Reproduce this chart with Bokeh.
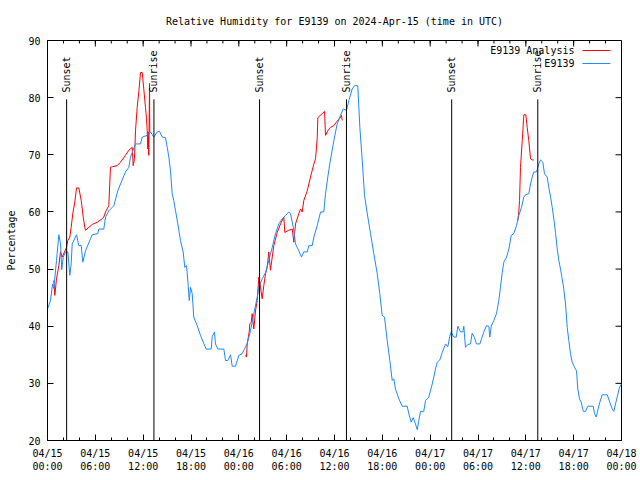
import math
from bokeh.plotting import figure
from bokeh.models import Range1d, FixedTicker, LinearAxis
from bokeh.core.properties import value
from bokeh.embed import file_html
from bokeh.resources import INLINE

# ---------------- data (hours after 2024-04-15 00:00 UTC) ----------------
x_tick_hours = [0, 6, 12, 18, 24, 30, 36, 42, 48, 54, 60, 66, 72]
x_tick_labels = ["04/15\n00:00", "04/15\n06:00", "04/15\n12:00", "04/15\n18:00",
                 "04/16\n00:00", "04/16\n06:00", "04/16\n12:00", "04/16\n18:00",
                 "04/17\n00:00", "04/17\n06:00", "04/17\n12:00", "04/17\n18:00",
                 "04/18\n00:00"]
x_minor_hours = [0, 2, 4, 6, 8, 10, 12, 14, 16, 18, 20, 22, 24, 26, 28, 30, 32, 34, 36,
                 38, 40, 42, 44, 46, 48, 50, 52, 54, 56, 58, 60, 62, 64, 66, 68, 70, 72]
y_ticks = [20, 30, 40, 50, 60, 70, 80, 90]

sun_hours = [2.4, 13.35, 26.6, 37.5, 50.7, 61.5]
sun_labels = ["Sunset", "Sunrise", "Sunset", "Sunrise", "Sunset", "Sunrise"]

NaN = float("nan")
analysis_hours = [
    0.79, 0.92, 1.13, 1.42, 1.63, 1.84, 2.13, 2.38, 2.55, 2.80,
    2.97, 3.17, 3.39, 3.64, 3.93, 4.23, 4.48, 4.68, 4.77, 5.18,
    5.61, 6.23, 6.86, 7.06, 7.28, 7.69, 7.90, 8.12, 8.74, 9.16,
    9.78, 10.20, 10.63, 10.75, 10.91, 11.04, 11.25, 11.45, 11.67, 11.88,
    12.08, 12.29, 12.42, 12.51, 12.58, 12.63, 12.71, 12.80, 12.83, NaN,
    24.84, 24.96, 25.05, 25.30, 25.38, 25.55, 25.68, 25.88, 26.09, 26.31,
    26.51, 26.72, 26.93, 27.13, 27.35, 27.56, 27.76, 27.97, 28.19, 28.39,
    28.81, 29.23, 29.64, 29.77, 30.27, 30.70, 30.90, 31.11, 31.52, 31.74,
    31.95, 32.15, 32.58, 32.99, 33.41, 33.62, 33.83, 33.91, 34.46, 34.75,
    34.87, 35.16, 35.50, 35.91, 36.34, 36.75, 36.88, 36.97, NaN,
    58.99, 59.12, 59.21, 59.33, 59.55, 59.75, 60.00, 60.17, 60.37, 60.59,
    60.80, 61.00]
analysis_rh = [
    48.0, 45.4, 48.3, 50.6, 53.0, 52.1, 53.0, 53.8, 55.0, 55.6,
    57.3, 59.7, 61.4, 64.2, 64.2, 62.0, 59.1, 57.3, 56.8, 57.3,
    57.8, 58.2, 58.8, 59.1, 60.0, 61.1, 67.8, 67.9, 68.1, 68.7,
    69.9, 70.8, 71.3, 68.1, 69.3, 74.2, 78.3, 81.0, 84.4, 84.4,
    81.5, 78.3, 76.3, 74.2, 71.0, 74.0, 69.9, 82.5, 74.0, NaN,
    34.9, 34.6, 36.9, 39.0, 40.4, 40.7, 42.2, 39.5, 42.7, 44.5,
    48.6, 46.8, 44.8, 47.1, 49.2, 50.3, 53.0, 49.8, 52.1, 54.1,
    56.4, 57.9, 59.1, 56.4, 56.8, 57.0, 54.7, 57.9, 59.7, 60.5,
    60.0, 62.0, 63.7, 66.1, 68.4, 69.3, 72.8, 76.5, 77.2, 77.6,
    73.4, 74.2, 74.8, 75.1, 75.9, 76.5, 76.9, 76.0, NaN,
    58.5, 60.0, 62.0, 67.8, 72.5, 77.0, 77.0, 74.8, 72.5, 69.3,
    69.1, 69.1]

station_hours = [
    0.00, 0.38, 0.63, 0.79, 1.13, 1.42, 1.63, 1.79, 1.97, 2.26,
    2.55, 2.80, 2.97, 3.10, 3.64, 3.93, 4.23, 4.43, 4.77, 5.39,
    5.61, 6.31, 6.44, 7.06, 7.28, 7.69, 8.12, 8.32, 8.82, 9.16,
    9.78, 10.20, 10.41, 11.04, 11.67, 11.88, 12.51, 12.92, 13.33, 13.76,
    14.05, 14.39, 14.80, 15.02, 15.22, 15.43, 15.64, 15.84, 16.06, 16.35,
    16.68, 17.02, 17.22, 17.44, 17.65, 17.78, 17.94, 18.15, 18.35, 18.78,
    19.19, 19.61, 19.91, 20.53, 20.66, 20.95, 21.07, 21.36, 22.12, 22.33,
    22.62, 22.96, 23.17, 23.58, 24.00, 24.42, 24.71, 25.05, 25.46, 25.88,
    26.31, 26.51, 26.93, 27.35, 27.76, 28.19, 28.60, 29.01, 29.44, 29.86,
    30.27, 30.48, 30.90, 31.11, 31.52, 31.86, 32.15, 32.58, 32.78, 33.20,
    33.41, 33.83, 34.25, 34.66, 34.87, 35.16, 35.41, 35.71, 36.00, 36.34,
    36.75, 37.09, 37.51, 37.80, 38.22, 38.51, 38.92, 39.18, 39.48, 39.76,
    40.10, 40.52, 40.93, 41.36, 41.68, 41.98, 42.27, 42.61, 42.94, 43.24,
    43.44, 43.65, 44.07, 44.49, 45.12, 45.32, 45.62, 45.87, 46.16, 46.38,
    46.58, 46.79, 47.20, 47.42, 47.83, 48.26, 48.67, 48.88, 49.21, 49.51,
    49.93, 50.21, 50.46, 50.64, 50.97, 51.27, 51.47, 51.81, 52.10, 52.22,
    52.43, 52.72, 53.06, 53.27, 53.56, 53.81, 54.23, 54.73, 55.07, 55.36,
    55.48, 55.66, 55.98, 56.32, 56.61, 56.82, 57.04, 57.24, 57.58, 57.87,
    58.17, 58.49, 58.83, 59.12, 59.46, 59.75, 59.96, 60.37, 60.59, 60.80,
    61.00, 61.34, 61.63, 61.84, 62.13, 62.34, 62.68, 62.88, 63.10, 63.31,
    63.51, 63.72, 63.94, 64.14, 64.35, 64.56, 64.76, 64.98, 65.19, 65.39,
    65.60, 65.82, 66.11, 66.36, 66.52, 66.73, 66.95, 67.20, 67.49, 67.78,
    68.45, 68.62, 68.83, 69.03, 69.28, 69.58, 70.21, 70.53, 70.84, 71.04,
    71.25, 71.46, 71.75, 72.00]
station_rh = [
    43.0, 44.5, 47.4, 46.6, 51.5, 56.0, 54.5, 49.9, 52.1, 53.0,
    53.0, 48.9, 50.9, 54.4, 56.0, 54.1, 54.1, 51.2, 53.2, 55.3,
    56.0, 56.2, 57.0, 57.0, 59.1, 60.2, 60.8, 61.1, 63.7, 64.9,
    67.0, 67.8, 69.6, 71.9, 71.9, 73.1, 73.4, 74.0, 73.1, 74.0,
    74.1, 73.1, 73.0, 71.3, 69.6, 67.2, 63.2, 62.0, 60.2, 57.9,
    55.0, 53.0, 50.3, 50.6, 47.1, 44.5, 46.8, 45.7, 41.6, 40.1,
    38.4, 36.9, 36.0, 36.0, 38.2, 39.0, 36.9, 36.0, 36.0, 34.0,
    34.0, 35.0, 33.0, 33.0, 34.9, 35.2, 36.0, 37.0, 39.2, 42.2,
    45.1, 46.8, 48.3, 49.4, 51.5, 53.8, 56.2, 57.9, 58.8, 59.4,
    60.0, 59.7, 56.8, 54.4, 53.2, 52.1, 53.0, 53.0, 54.1, 54.1,
    55.6, 57.6, 60.0, 60.0, 63.2, 66.1, 68.4, 70.8, 73.1, 75.4,
    76.9, 78.0, 77.8, 79.5, 81.5, 82.1, 82.1, 74.8, 69.0, 63.0,
    59.8, 56.2, 52.7, 49.2, 45.7, 41.9, 41.6, 37.5, 34.0, 30.5,
    30.8, 29.0, 27.3, 26.0, 26.0, 24.7, 23.2, 24.0, 22.9, 21.9,
    23.5, 25.1, 25.1, 27.0, 27.6, 29.9, 32.5, 33.7, 34.1, 35.4,
    36.9, 36.4, 38.2, 39.0, 38.1, 38.1, 40.0, 39.0, 39.0, 40.0,
    36.3, 36.8, 36.9, 38.8, 38.0, 36.9, 36.9, 39.0, 40.1, 40.0,
    38.1, 40.0, 41.0, 42.2, 44.5, 46.8, 49.4, 51.2, 52.1, 53.5,
    55.9, 56.2, 57.6, 59.4, 60.8, 62.6, 63.0, 63.2, 64.9, 66.1,
    67.0, 67.0, 68.4, 69.1, 68.7, 66.7, 66.1, 64.3, 62.6, 60.8,
    58.8, 56.4, 53.5, 51.5, 50.0, 48.3, 46.5, 43.9, 39.8, 37.5,
    35.2, 33.7, 32.8, 32.2, 29.0, 27.3, 26.7, 25.1, 25.1, 26.0,
    26.0, 24.7, 24.1, 25.3, 26.7, 28.0, 28.0, 26.7, 25.5, 25.1,
    26.4, 27.6, 29.3, 29.9]

series_names = ["E9139 Analysis", "E9139"]
series_colors = ["#ff0000", "#1e88ff"]

# ---------------- figure ----------------
FONT = "DejaVu Sans Mono"
FS = "10px"

p = figure(width=640, height=480, output_backend="svg", toolbar_location=None,
           x_range=Range1d(0, 72), y_range=Range1d(20, 90),
           x_axis_type=None, y_axis_type=None,
           min_border_left=47, min_border_right=19,
           min_border_top=40, min_border_bottom=40)
p.outline_line_color = "black"
p.outline_line_width = 1
p.background_fill_color = "white"
p.border_fill_color = "white"

p.title.text = "Relative Humidity for E9139 on 2024-Apr-15 (time in UTC)"
p.title.text_font = FONT
p.title.text_font_size = FS
p.title.text_font_style = "normal"
p.title.text_color = "black"
p.title.align = "center"
p.title.standoff = 27


def style_axis(ax):
    ax.axis_line_color = "black"
    ax.major_tick_line_color = "black"
    ax.minor_tick_line_color = "black"
    ax.major_tick_in = 6
    ax.major_tick_out = 0
    ax.minor_tick_in = 3
    ax.minor_tick_out = 0
    ax.major_label_text_font = FONT
    ax.major_label_text_font_size = FS
    ax.major_label_text_color = "black"
    ax.major_label_standoff = 7


xticker = FixedTicker(ticks=x_tick_hours, minor_ticks=x_minor_hours)
yticker = FixedTicker(ticks=y_ticks, minor_ticks=[])

xb = LinearAxis(ticker=xticker,
                major_label_overrides=dict(zip(x_tick_hours, x_tick_labels)))
style_axis(xb)
p.add_layout(xb, "below")

yl = LinearAxis(ticker=yticker, axis_label="Percentage")
style_axis(yl)
yl.axis_label_text_font = FONT
yl.axis_label_text_font_size = FS
yl.axis_label_text_font_style = "normal"
yl.axis_label_text_color = "black"
yl.axis_label_standoff = 8
p.add_layout(yl, "left")

# mirrored tick marks on the top and right edges (gnuplot style)
nmin = len(x_minor_hours)
nmaj = len(x_tick_hours)
p.segment(x0=x_minor_hours, y0=[90] * nmin, x1=x_minor_hours, y1=[90 - 0.525] * nmin,
          line_color="black", line_width=1)
p.segment(x0=x_tick_hours, y0=[90] * nmaj, x1=x_tick_hours, y1=[90 - 1.05] * nmaj,
          line_color="black", line_width=1)
ny = len(y_ticks)
p.segment(x0=[72] * ny, y0=y_ticks, x1=[72 - 0.75] * ny, y1=y_ticks,
          line_color="black", line_width=1)

# data lines
p.line(analysis_hours, analysis_rh, line_color=series_colors[0], line_width=1)
p.line(station_hours, station_rh, line_color=series_colors[1], line_width=1)

# sunrise / sunset markers
n = len(sun_hours)
p.segment(x0=sun_hours, y0=[20] * n, x1=sun_hours, y1=[79.7] * n,
          line_color="black", line_width=1)
p.text(x=sun_hours, y=[80.9] * n, text=sun_labels, angle=math.pi / 2,
       text_align="left", text_baseline="middle",
       text_font=value(FONT), text_font_size=FS, text_color="black")

# key (gnuplot style: text then sample line)
key_y = [88.25, 85.98]
p.text(x=[66.1, 66.1], y=key_y, text=series_names, text_align="right",
       text_baseline="middle", text_font=value(FONT), text_font_size=FS,
       text_color="black")
p.segment(x0=[67.1, 67.1], y0=key_y, x1=[70.6, 70.6], y1=key_y,
          line_color=series_colors, line_width=1)

open("out.html", "w").write(file_html(p, INLINE))
